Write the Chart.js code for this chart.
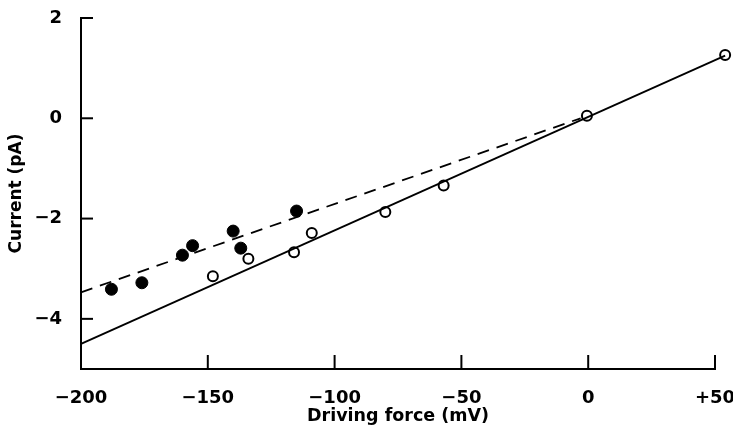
<!DOCTYPE html>
<html>
<head>
<meta charset="utf-8">
<script src="https://cdn.jsdelivr.net/npm/chart.js@4"></script>
<style>
  body { margin: 0; background: #fff; }
  #wrap { width: 733px; height: 429px; }
</style>
</head>
<body>
<div id="wrap"><canvas id="myChart"></canvas></div>
<script>
// filled circles
var filledX = [-188, -176, -160, -156, -140, -137, -115];
var filledY = [-3.41, -3.28, -2.73, -2.54, -2.25, -2.59, -1.85];
// open circles
var openX = [-148, -134, -116, -109, -80, -57, -0.5, 54];
var openY = [-3.15, -2.80, -2.67, -2.29, -1.87, -1.34, 0.05, 1.26];
// fitted lines
var solidX = [-200, 54];
var solidY = [-4.5, 1.25];
var dashX = [-200, -3];
var dashY = [-3.47, 0];

var xTickValues = [-200, -150, -100, -50, 0, 50];
var xTickLabels = ["\u2212200", "\u2212150", "\u2212100", "\u221250", "0", "+50"];
var yTickValues = [-4, -2, 0, 2];
var yTickLabels = ["\u22124", "\u22122", "0", "2"];

function pts(xs, ys) {
  return xs.map(function (x, i) { return {x: x, y: ys[i]}; });
}

// tick marks pointing into the plot
var innerTicks = {
  id: "innerTicks",
  afterDraw: function (chart) {
    var ctx = chart.ctx, area = chart.chartArea;
    var xs = chart.scales.x, ys = chart.scales.y;
    ctx.save();
    ctx.strokeStyle = "#000";
    ctx.lineWidth = 2;
    xTickValues.forEach(function (v) {
      var px = xs.getPixelForValue(v);
      ctx.beginPath();
      ctx.moveTo(px, area.bottom);
      ctx.lineTo(px, area.bottom - 14);
      ctx.stroke();
    });
    yTickValues.forEach(function (v) {
      var py = ys.getPixelForValue(v);
      ctx.beginPath();
      ctx.moveTo(area.left, py);
      ctx.lineTo(area.left + 12, py);
      ctx.stroke();
    });
    ctx.restore();
  }
};

var font = "'DejaVu Sans', sans-serif";

new Chart("myChart", {
  type: "scatter",
  data: {
    datasets: [
      {
        data: pts(solidX, solidY),
        showLine: true,
        borderColor: "#000",
        borderWidth: 1.8,
        pointRadius: 0,
        clip: false
      },
      {
        data: pts(dashX, dashY),
        showLine: true,
        borderColor: "#000",
        borderWidth: 1.8,
        borderDash: [12, 8],
        pointRadius: 0,
        clip: false
      },
      {
        data: pts(openX, openY),
        pointRadius: 5,
        pointHoverRadius: 16,
        pointBackgroundColor: "#fff",
        pointBorderColor: "#000",
        pointBorderWidth: 2,
        clip: false
      },
      {
        data: pts(filledX, filledY),
        pointRadius: 6,
        pointBackgroundColor: "#000",
        pointBorderColor: "#000",
        pointBorderWidth: 1,
        clip: false
      }
    ]
  },
  options: {
    responsive: true,
    maintainAspectRatio: false,
    animation: false,
    events: [],
    layout: {padding: {top: 15, right: 18, left: 0, bottom: 0}},
    plugins: {
      legend: {display: false},
      tooltip: {enabled: false}
    },
    scales: {
      x: {
        type: "linear",
        min: -200,
        max: 50,
        afterBuildTicks: function (s) { s.ticks = xTickValues.map(function (v) { return {value: v}; }); },
        afterFit: function (s) { s.height = 60; s.paddingLeft = 0; s.paddingRight = 0; },
        grid: {display: false},
        border: {display: true, color: "#000", width: 2},
        ticks: {
          color: "#000",
          padding: 11,
          maxRotation: 0,
          font: {family: font, size: 18, weight: "bold"},
          callback: function (v) { return xTickLabels[xTickValues.indexOf(v)]; }
        },
        title: {
          display: true,
          text: "Driving force (mV)",
          color: "#000",
          padding: {top: 0, bottom: 2},
          font: {family: font, size: 17.5, weight: "bold"}
        }
      },
      y: {
        type: "linear",
        min: -5,
        max: 2,
        afterBuildTicks: function (s) { s.ticks = yTickValues.map(function (v) { return {value: v}; }); },
        afterFit: function (s) { s.width = 81; s.paddingTop = 0; s.paddingBottom = 0; },
        grid: {display: false},
        border: {display: true, color: "#000", width: 2},
        ticks: {
          color: "#000",
          padding: 11,
          font: {family: font, size: 18, weight: "bold"},
          callback: function (v) { return yTickLabels[yTickValues.indexOf(v)]; }
        },
        title: {
          display: true,
          text: "Current (pA)",
          color: "#000",
          padding: {top: 6, bottom: 0},
          font: {family: font, size: 17, weight: "bold"}
        }
      }
    }
  },
  plugins: [innerTicks]
});
</script>
</body>
</html>
